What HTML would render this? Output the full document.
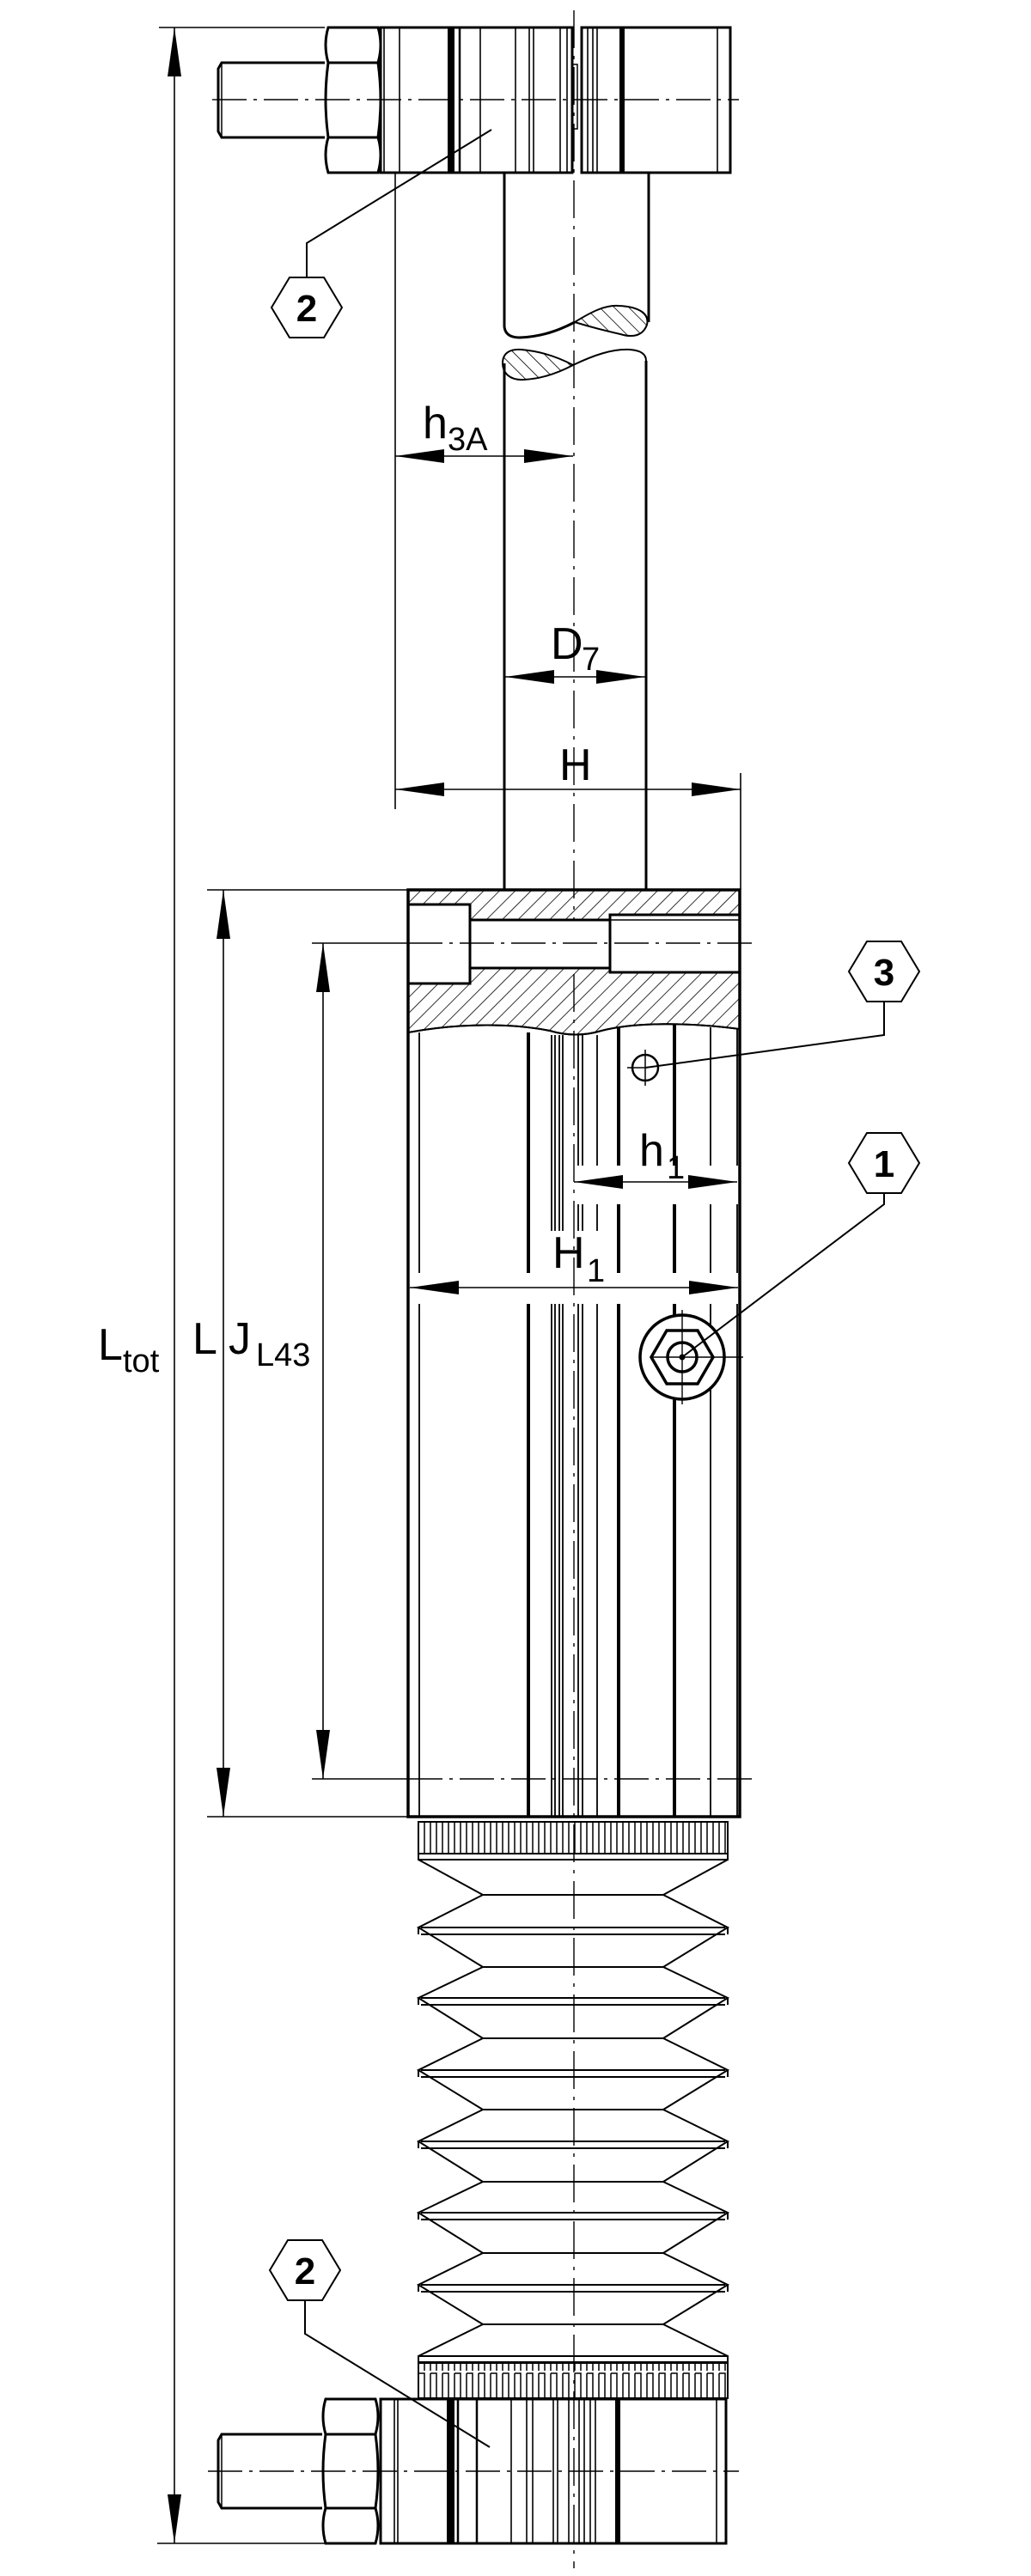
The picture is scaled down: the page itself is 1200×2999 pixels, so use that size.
<!DOCTYPE html>
<html><head><meta charset="utf-8"><style>
html,body{margin:0;padding:0;background:#fff;}
svg{display:block;}
text{font-family:"Liberation Sans",sans-serif;fill:#000;}
</style></head><body>
<svg width="1200" height="2999" viewBox="0 0 1200 2999" xmlns="http://www.w3.org/2000/svg">
<defs>
<pattern id="hb" patternUnits="userSpaceOnUse" width="13" height="13" patternTransform="rotate(45)"><line x1="0" y1="0" x2="0" y2="13" stroke="#000" stroke-width="1.6"/></pattern>
<pattern id="hr" patternUnits="userSpaceOnUse" width="12" height="12" patternTransform="rotate(-45)"><line x1="0" y1="0" x2="0" y2="12" stroke="#000" stroke-width="1.6"/></pattern>
<pattern id="kn" patternUnits="userSpaceOnUse" x="487" y="0" width="14" height="60"><path d="M0,60 V3 H7 V60 M7,60 V3 M14,60 V3" fill="none" stroke="#000" stroke-width="1.5"/></pattern>
<marker id="a" viewBox="0 0 57 16" refX="57" refY="8" markerWidth="57" markerHeight="16" markerUnits="userSpaceOnUse" orient="auto-start-reverse"><path d="M0,0 L57,8 L0,16 Z" fill="#000"/></marker>
</defs>
<g fill="none" stroke="#000" stroke-linecap="butt">

<!-- ===== Ltot dimension ===== -->
<line x1="185" y1="32" x2="378" y2="32" stroke-width="1.6"/>
<line x1="183" y1="2961" x2="378" y2="2961" stroke-width="1.6"/>
<line x1="203" y1="32" x2="203" y2="2961" stroke-width="1.6" marker-start="url(#a)" marker-end="url(#a)"/>

<!-- ===== top clamp ===== -->
<path d="M378,73 H258 L254,80 V153 L258,160 H378" stroke-width="3"/>
<line x1="258" y1="73" x2="258" y2="160" stroke-width="1.5"/>
<path d="M382,32 H440 Q446,52 440,73 Q446,116 440,160 Q446,180 440,201 H382 Q376,180 382,160 Q376,116 382,73 Q376,52 382,32 Z" stroke-width="3"/>
<line x1="382" y1="73" x2="440" y2="73" stroke-width="3"/>
<line x1="382" y1="160" x2="440" y2="160" stroke-width="3"/>
<rect x="443" y="32" width="223" height="169" stroke-width="3"/>
<rect x="677" y="32" width="173" height="169" stroke-width="3"/>
<g stroke-width="1.6">
<line x1="447" y1="32" x2="447" y2="201"/><line x1="465" y1="32" x2="465" y2="201"/>
<line x1="559" y1="32" x2="559" y2="201"/><line x1="600" y1="32" x2="600" y2="201"/>
<line x1="616" y1="32" x2="616" y2="201"/><line x1="621" y1="32" x2="621" y2="201"/>
<line x1="652" y1="32" x2="652" y2="201"/><line x1="660" y1="32" x2="660" y2="201"/>
<line x1="684" y1="32" x2="684" y2="201"/><line x1="690" y1="32" x2="690" y2="201"/>
<line x1="695" y1="32" x2="695" y2="201"/><line x1="835" y1="32" x2="835" y2="201"/>
</g>
<rect x="521" y="32" width="8" height="169" fill="#000" stroke="none"/>
<line x1="535" y1="32" x2="535" y2="201" stroke-width="2.5"/>
<rect x="721" y="32" width="6" height="169" fill="#000" stroke="none"/>
<path d="M666,75 H672 V150 H666" stroke-width="1.5"/>
<line x1="247" y1="116" x2="860" y2="116" stroke-width="1.4" stroke-dasharray="40 8 4 8"/>

<!-- ===== rod ===== -->
<path d="M587,201 V380 Q588,393 605,393 C630,392 650,385 669,375" stroke-width="3"/>
<path d="M755,201 V375" stroke-width="3"/>
<path d="M669,375 C690,362 705,355 720,356 C745,357 756,366 753,378 C748,392 735,393 722,389 C700,384 685,380 669,375 Z" fill="url(#hr)" stroke-width="2"/>
<path d="M585,423 C585,410 595,406 607,407 C630,409 650,416 667,425 C650,434 630,441 610,442 C592,443 585,433 585,423 Z" fill="url(#hr)" stroke-width="2"/>
<path d="M667,425 C690,414 712,406 733,407 C748,408 752,414 752,420" stroke-width="2"/>
<line x1="587" y1="423" x2="587" y2="1036" stroke-width="3"/>
<line x1="752" y1="420" x2="752" y2="1036" stroke-width="3"/>

<!-- axis -->
<line x1="668" y1="12" x2="668" y2="2990" stroke-width="1.4" stroke-dasharray="44 9 4 9"/>

<!-- ===== item 2 top ===== -->
<path d="M572,151 L357,283 V323" stroke-width="2"/>
<polygon points="316,358 337,323 377,323 398,358 377,393 337,393" fill="#fff" stroke-width="2"/>

<!-- ===== h3A, D7, H dimensions ===== -->
<line x1="460" y1="201" x2="460" y2="942" stroke-width="1.6"/>
<line x1="460" y1="531" x2="667" y2="531" stroke-width="1.6" marker-start="url(#a)" marker-end="url(#a)"/>
<line x1="588" y1="788" x2="751" y2="788" stroke-width="1.6" marker-start="url(#a)" marker-end="url(#a)"/>
<line x1="862" y1="900" x2="862" y2="1036" stroke-width="1.6"/>
<line x1="460" y1="919" x2="862" y2="919" stroke-width="1.6" marker-start="url(#a)" marker-end="url(#a)"/>

<!-- ===== body ===== -->
<path d="M475,1036 H861 V1198 C800,1190 740,1190 700,1200 C680,1206 660,1206 640,1200 C600,1192 540,1190 475,1202 Z" fill="url(#hb)" stroke-width="2"/>
<rect x="475" y="1053" width="72" height="92" fill="#fff" stroke-width="3"/>
<rect x="547" y="1071" width="314" height="56" fill="#fff" stroke-width="3"/>
<rect x="710" y="1065" width="151" height="67" fill="#fff" stroke-width="3"/>
<line x1="710" y1="1071" x2="861" y2="1071" stroke-width="1.6"/>
<path d="M475,1202 C540,1190 600,1192 640,1200 C660,1206 680,1206 700,1200 C740,1190 800,1190 861,1198" stroke-width="2"/>
<rect x="475" y="1036" width="386" height="1079" stroke-width="3.5"/>

<!-- body vertical lines -->
<g stroke-width="1.8">
<path d="M488,1202 V1482 M488,1518 V2115"/>
<path d="M642,1205 V1433 M642,1518 V2115 M646,1205 V1433 M646,1518 V2115 M651,1205 V1433 M651,1518 V2115 M655,1205 V1433 M655,1518 V2115"/>
<path d="M673,1205 V1357 M673,1402 V1433 M673,1518 V2115 M678,1205 V1357 M678,1402 V1433 M678,1518 V2115 M695,1205 V1357 M695,1402 V1433 M695,1518 V2115"/>
<path d="M827,1196 V1357 M827,1402 V1482 M827,1518 V2115 M858,1198 V1357 M858,1402 V1482 M858,1518 V2115"/>
</g>
<g stroke-width="4">
<path d="M615,1202 V1482 M615,1518 V2115"/>
<path d="M720,1196 V1357 M720,1402 V1482 M720,1518 V2115"/>
<path d="M785,1193 V1357 M785,1402 V1482 M785,1518 V2115"/>
</g>

<!-- L / J dimensions -->
<line x1="241" y1="1036" x2="475" y2="1036" stroke-width="1.6"/>
<line x1="241" y1="2115" x2="475" y2="2115" stroke-width="1.6"/>
<line x1="260" y1="1036" x2="260" y2="2115" stroke-width="1.6" marker-start="url(#a)" marker-end="url(#a)"/>
<line x1="363" y1="1098" x2="475" y2="1098" stroke-width="1.6"/>
<line x1="363" y1="2071" x2="475" y2="2071" stroke-width="1.6"/>
<line x1="376" y1="1098" x2="376" y2="2071" stroke-width="1.6" marker-start="url(#a)" marker-end="url(#a)"/>
<line x1="475" y1="1098" x2="881" y2="1098" stroke-width="1.4" stroke-dasharray="40 8 4 8"/>
<line x1="475" y1="2071" x2="875" y2="2071" stroke-width="1.4" stroke-dasharray="40 8 4 8"/>

<!-- h1, H1 -->
<line x1="668" y1="1376" x2="858" y2="1376" stroke-width="1.6" marker-start="url(#a)" marker-end="url(#a)"/>
<line x1="477" y1="1499" x2="859" y2="1499" stroke-width="1.6" marker-start="url(#a)" marker-end="url(#a)"/>

<!-- item 3 -->
<circle cx="751" cy="1243" r="15" stroke-width="2.5"/>
<line x1="751" y1="1222" x2="751" y2="1264" stroke-width="1.5"/>
<line x1="730" y1="1243" x2="751" y2="1243" stroke-width="1.5"/>
<path d="M751,1243 L1029,1205 V1166" stroke-width="2"/>
<polygon points="988,1131 1009,1096 1049,1096 1070,1131 1049,1166 1009,1166" fill="#fff" stroke-width="2"/>

<!-- item 1 -->
<circle cx="794" cy="1580" r="49" fill="#fff" stroke-width="3.5"/>
<polygon points="758,1580 776,1549 812,1549 830,1580 812,1611 776,1611" stroke-width="3.5"/>
<circle cx="794" cy="1580" r="17" stroke-width="3.5"/>
<line x1="794" y1="1525" x2="794" y2="1635" stroke-width="1.4"/>
<line x1="758" y1="1580" x2="865" y2="1580" stroke-width="1.4"/>
<circle cx="794" cy="1580" r="3" fill="#000"/>
<path d="M794,1580 L1029,1402 V1389" stroke-width="2"/>
<polygon points="988,1354 1009,1319 1049,1319 1070,1354 1049,1389 1009,1389" fill="#fff" stroke-width="2"/>

<!-- ===== bellows ===== -->
<rect x="487" y="2121" width="360" height="37" fill="url(#kn)" stroke-width="2"/>
<path d="M487,2158 H847 V2165 H487 Z" stroke-width="2"/>
<path d="M487,2165 L562,2206 M847,2165 L772,2206" stroke-width="2"/>
<g stroke-width="2">
<path d="M562,2206 H772 M562,2290 H772 M562,2373 H772 M562,2456 H772 M562,2540 H772 M562,2623 H772 M562,2706 H772"/>
<path d="M562,2206 L487,2244 L562,2290 M772,2206 L847,2244 L772,2290"/>
<path d="M562,2290 L487,2326 L562,2373 M772,2290 L847,2326 L772,2373"/>
<path d="M562,2373 L487,2410 L562,2456 M772,2373 L847,2410 L772,2456"/>
<path d="M562,2456 L487,2493 L562,2540 M772,2456 L847,2493 L772,2540"/>
<path d="M562,2540 L487,2576 L562,2623 M772,2540 L847,2576 L772,2623"/>
<path d="M562,2623 L487,2660 L562,2706 M772,2623 L847,2660 L772,2706"/>
<path d="M490,2244 H844 M490,2252 H844 M490,2326 H844 M490,2334 H844 M490,2410 H844 M490,2418 H844 M490,2493 H844 M490,2501 H844 M490,2576 H844 M490,2584 H844 M490,2660 H844 M490,2668 H844"/>
<path d="M487,2244 V2252 M847,2244 V2252 M487,2326 V2334 M847,2326 V2334 M487,2410 V2418 M847,2410 V2418 M487,2493 V2501 M847,2493 V2501 M487,2576 V2584 M847,2576 V2584 M487,2660 V2668 M847,2660 V2668"/>
<path d="M562,2706 L487,2743 M772,2706 L847,2743"/>
<path d="M487,2743 H847 V2750 H487 Z"/>
</g>
<rect x="487" y="2751" width="360" height="41" fill="url(#kn)" stroke-width="2"/>

<!-- ===== bottom clamp ===== -->
<path d="M375,2834 H258 L254,2841 V2913 L258,2920 H375" stroke-width="3"/>
<line x1="258" y1="2834" x2="258" y2="2920" stroke-width="1.5"/>
<path d="M379,2793 H437 Q443,2813 437,2834 Q443,2877 437,2920 Q443,2940 437,2961 H379 Q373,2940 379,2920 Q373,2877 379,2834 Q373,2813 379,2793 Z" stroke-width="3"/>
<line x1="379" y1="2834" x2="437" y2="2834" stroke-width="3"/>
<line x1="379" y1="2920" x2="437" y2="2920" stroke-width="3"/>
<rect x="443" y="2793" width="402" height="168" stroke-width="3"/>
<g stroke-width="1.6">
<line x1="459" y1="2793" x2="459" y2="2961"/><line x1="463" y1="2793" x2="463" y2="2961"/>
<line x1="595" y1="2793" x2="595" y2="2961"/><line x1="613" y1="2793" x2="613" y2="2961"/>
<line x1="620" y1="2793" x2="620" y2="2961"/><line x1="644" y1="2793" x2="644" y2="2961"/>
<line x1="649" y1="2793" x2="649" y2="2961"/><line x1="662" y1="2793" x2="662" y2="2961"/>
<line x1="674" y1="2793" x2="674" y2="2961"/><line x1="680" y1="2793" x2="680" y2="2961"/>
<line x1="687" y1="2793" x2="687" y2="2961"/><line x1="693" y1="2793" x2="693" y2="2961"/>
<line x1="834" y1="2793" x2="834" y2="2961"/>
</g>
<rect x="520" y="2793" width="9" height="168" fill="#000" stroke="none"/>
<line x1="533" y1="2793" x2="533" y2="2961" stroke-width="2.5"/>
<line x1="555" y1="2793" x2="555" y2="2961" stroke-width="2.5"/>
<rect x="716" y="2793" width="6" height="168" fill="#000" stroke="none"/>
<line x1="242" y1="2877" x2="860" y2="2877" stroke-width="1.4" stroke-dasharray="40 8 4 8"/>

<!-- item 2 bottom -->
<path d="M570,2849 L355,2717 V2678" stroke-width="2"/>
<polygon points="314,2643 335,2608 375,2608 396,2643 375,2678 335,2678" fill="#fff" stroke-width="2"/>
</g>

<!-- ===== text ===== -->
<g font-size="52">
<text x="492" y="510">h</text><text x="521" y="524" font-size="38">3A</text>
<text x="641" y="767">D</text><text x="677" y="780" font-size="38">7</text>
<text x="651" y="908">H</text>
<text x="744" y="1357">h</text><text x="776" y="1372" font-size="38">1</text>
<text x="643" y="1476">H</text><text x="683" y="1492" font-size="38">1</text>
<text x="114" y="1583">L</text><text x="143" y="1597" font-size="38">tot</text>
<text x="224" y="1576">L</text>
<text x="266" y="1576">J</text><text x="298" y="1590" font-size="38">L43</text>
</g>
<g font-size="44" font-weight="bold" text-anchor="middle">
<text x="357" y="374">2</text>
<text x="355" y="2659">2</text>
<text x="1029" y="1147">3</text>
<text x="1029" y="1370">1</text>
</g>
</svg>
</body></html>
